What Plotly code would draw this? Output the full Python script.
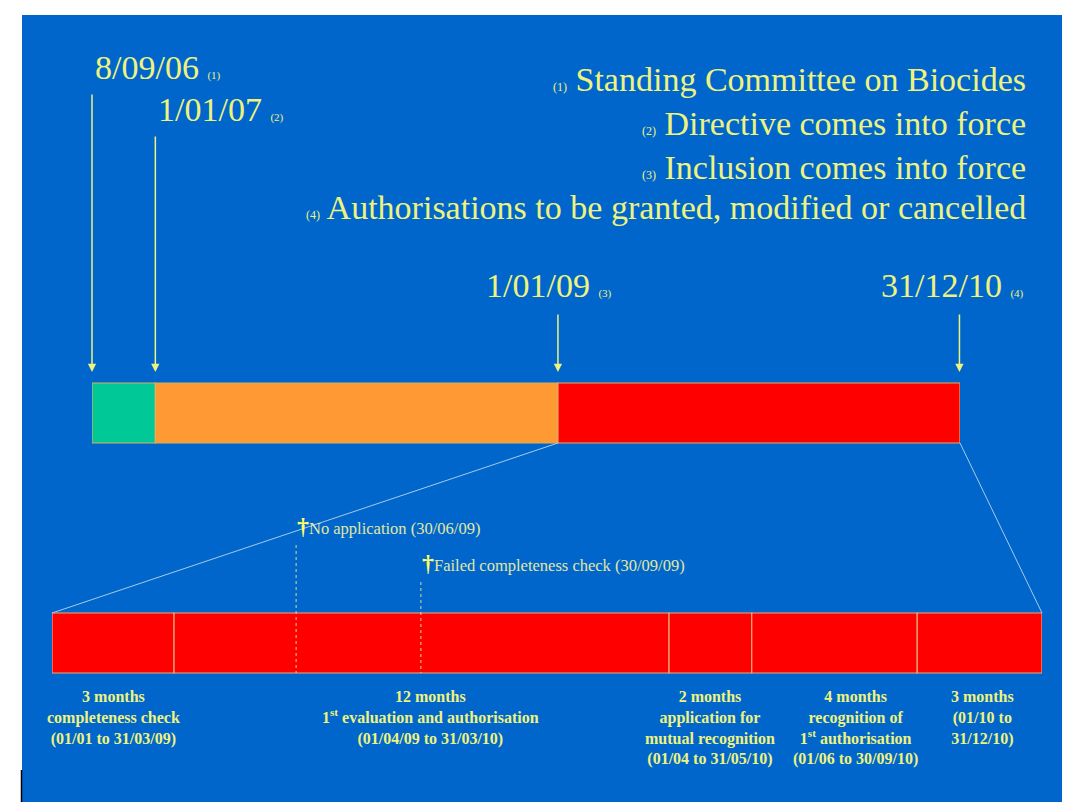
import pandas as pd
import plotly.graph_objects as go

# page is offset by the body margin; the figure fills the rest of the window
OFF = 8
W, H = 1070 - OFF, 804 - OFF

# ---------------- data ----------------
milestone_dates = ["2006-09-08", "2007-01-01", "2009-01-01", "2010-12-31"]
milestone_labels = ["8/09/06", "1/01/07", "1/01/09", "31/12/10"]
milestone_notes = ["(1)", "(2)", "(3)", "(4)"]
legend_texts = [
    "Standing Committee on Biocides",
    "Directive comes into force",
    "Inclusion comes into force",
    "Authorisations to be granted, modified or cancelled",
]

phase_starts = ["2006-09-08", "2007-01-01", "2009-01-01"]
phase_ends = ["2007-01-01", "2009-01-01", "2011-01-01"]
phase_colors = ["#00c896", "#ff9933", "#ff0000"]

step_starts = ["2009-01-01", "2009-04-01", "2010-04-01", "2010-06-01", "2010-10-01"]
step_ends = ["2009-04-01", "2010-04-01", "2010-06-01", "2010-10-01", "2011-01-01"]
step_labels = [
    "3 months<br>completeness check<br>(01/01 to 31/03/09)",
    "12 months<br>1<sup>st</sup> evaluation and authorisation<br>(01/04/09 to 31/03/10)",
    "2 months<br>application for<br>mutual recognition<br>(01/04 to 31/05/10)",
    "4 months<br>recognition of<br>1<sup>st</sup> authorisation<br>(01/06 to 30/09/10)",
    "3 months<br>(01/10 to<br>31/12/10)",
]

event_dates = ["2009-06-30", "2009-09-30"]
event_labels = ["No application (30/06/09)", "Failed completeness check (30/09/09)"]

# ---------------- styling ----------------
FONT = "Liberation Serif"
YEL = "#eef37e"
PALE = "#e2e8a0"
BLUE = "#0066cc"
OUTLINE = "#d9b060"


def px_(x):
    return (x - OFF) / W


def py(y):
    return 1 - (y - OFF) / H


top_dom = [px_(92), px_(960)]
top_rng = [phase_starts[0], phase_ends[-1]]
bot_dom = [px_(52), px_(1042)]
bot_rng = [step_starts[0], step_ends[-1]]


def ydom(top_px, bot_px, pad=0.1):
    h = bot_px - top_px
    return [py(bot_px + h * pad), py(top_px - h * pad)]


fig = go.Figure()

ps, pe = pd.to_datetime(phase_starts), pd.to_datetime(phase_ends)
fig.add_trace(go.Bar(
    orientation="h", y=[0] * len(ps), base=phase_starts,
    x=list((pe - ps).total_seconds() * 1000), width=1,
    marker=dict(color=phase_colors, line=dict(color=OUTLINE, width=1.2)),
    xaxis="x", yaxis="y", hoverinfo="skip", showlegend=False,
))

ss, se = pd.to_datetime(step_starts), pd.to_datetime(step_ends)
fig.add_trace(go.Bar(
    orientation="h", y=[0] * len(ss), base=step_starts,
    x=list((se - ss).total_seconds() * 1000), width=1,
    marker=dict(color="#ff0000", line=dict(color="#f0a878", width=1.2)),
    xaxis="x2", yaxis="y2", hoverinfo="skip", showlegend=False,
))

# background panels
shapes = [
    dict(type="rect", xref="paper", yref="paper", x0=0, x1=1, y0=0, y1=1,
         fillcolor="#ffffff", line=dict(width=0), layer="below"),
    dict(type="rect", xref="paper", yref="paper", x0=px_(22), x1=1, y0=py(802), y1=py(15),
         fillcolor=BLUE, line=dict(width=0), layer="below"),
    dict(type="line", xref="paper", yref="paper", x0=px_(21.5), x1=px_(21.5), y0=py(802), y1=py(770),
         line=dict(color="#000000", width=1.5)),
]


def paper_x(date, dom, rng):
    t, a, b = pd.Timestamp(date), pd.Timestamp(rng[0]), pd.Timestamp(rng[1])
    return dom[0] + (t - a) / (b - a) * (dom[1] - dom[0])


# zoom connector lines
shapes.append(dict(type="line", xref="paper", yref="paper",
                   x0=paper_x(step_starts[0], top_dom, top_rng), y0=py(443),
                   x1=bot_dom[0], y1=py(613), line=dict(color="#a9c9e6", width=1)))
shapes.append(dict(type="line", xref="paper", yref="paper",
                   x0=paper_x(step_ends[-1], top_dom, top_rng), y0=py(443),
                   x1=bot_dom[1], y1=py(613), line=dict(color="#a9c9e6", width=1)))

# event dashed lines
for d, top in zip(event_dates, [545, 582]):
    shapes.append(dict(type="line", xref="x2", yref="paper", x0=d, x1=d,
                       y0=py(top), y1=py(673), line=dict(color="#d8d898", width=1, dash="dot")))

annotations = []
# milestone arrows
for d, tail in zip(milestone_dates, [93, 135, 313, 313]):
    annotations.append(dict(x=d, xref="x", y=py(372), yref="paper", text="",
                            showarrow=True, ax=0, ay=-(372 - tail), arrowhead=2,
                            arrowsize=1.1, arrowwidth=1.5, arrowcolor=YEL))

# milestone labels
lab_y = [67, 110, 285, 285]
lab_anchor = ["left", "left", "center", "center"]
lab_shift = [1, 1, -9, -7]
for d, lab, note, y, anc, sh in zip(milestone_dates, milestone_labels, milestone_notes,
                                    lab_y, lab_anchor, lab_shift):
    annotations.append(dict(
        x=d, xref="x", y=py(y), yref="paper", xanchor=anc, yanchor="middle", xshift=sh,
        text=f"{lab} <span style='font-size:11px'>{note}</span>", showarrow=False,
        font=dict(family=FONT, size=34, color=YEL)))

# legend texts
for note, txt, y in zip(milestone_notes, legend_texts, [80, 124, 167, 207]):
    annotations.append(dict(
        x=px_(1028), xref="paper", y=py(y), yref="paper", xanchor="right", yanchor="middle",
        text=f"<span style='font-size:12px'>{note}</span> {txt}", showarrow=False,
        font=dict(family=FONT, size=34, color=YEL)))

# step labels
mids = ss + (se - ss) / 2
for m, lab, sh in zip(mids, step_labels, [0, 9, 0, 21, 3]):
    annotations.append(dict(
        x=m, xref="x2", y=py(686), yref="paper", xanchor="center", yanchor="top", xshift=sh,
        text=f"<b>{lab}</b>", showarrow=False, align="center",
        font=dict(family=FONT, size=16, color=YEL)))

# event labels
for d, lab, y in zip(event_dates, event_labels, [526, 563]):
    annotations.append(dict(
        x=d, xref="x2", y=py(y), yref="paper", xanchor="left", yanchor="middle", xshift=-1,
        text=f"<span style='font-size:24px;color:#ffff66'><b>†</b></span>{lab}",
        showarrow=False, font=dict(family=FONT, size=16.5, color=PALE)))

fig.update_layout(
    width=W, height=H, margin=dict(l=0, r=0, t=0, b=0),
    paper_bgcolor="#ffffff", plot_bgcolor="rgba(0,0,0,0)",
    barmode="overlay", showlegend=False,
    shapes=shapes, annotations=annotations,
    xaxis=dict(type="date", domain=top_dom, range=top_rng, visible=False, anchor="y", fixedrange=True),
    yaxis=dict(domain=ydom(383, 443), range=[-0.6, 0.6], visible=False, anchor="x", fixedrange=True),
    xaxis2=dict(type="date", domain=bot_dom, range=bot_rng, visible=False, anchor="y2", fixedrange=True),
    yaxis2=dict(domain=ydom(613, 673), range=[-0.6, 0.6], visible=False, anchor="x2", fixedrange=True),
)

fig.write_html("out.html")
